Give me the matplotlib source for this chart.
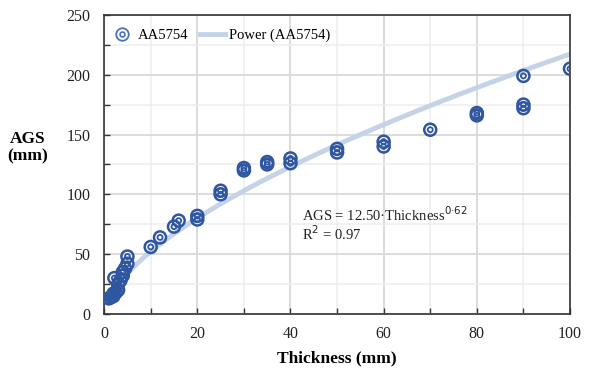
import numpy as np
import matplotlib
matplotlib.use("Agg")
import matplotlib.pyplot as plt
from matplotlib.ticker import MultipleLocator
from matplotlib.lines import Line2D

plt.rcParams['font.family'] = ['Liberation Serif', 'DejaVu Serif']

thickness = [1, 1.5, 2, 2, 2.5, 2.2, 3, 3, 3.5, 4, 4, 4.5, 5, 5,
             10, 12, 15, 16, 20, 20, 25, 25, 30, 30, 35, 35, 40, 40,
             50, 50, 60, 60, 70, 80, 80, 90, 90, 90, 100]
ags = [13, 14, 15, 17, 18, 30, 20, 25, 28, 32, 35, 38, 42, 48,
       56, 64, 73, 78, 79, 82, 100, 103, 120, 122, 125, 127, 126, 130,
       135, 138, 140, 144, 154, 166, 168, 172, 175, 199, 205]
fit_a = 12.50
fit_b = 0.62
series_label = "AA5754"
fit_label = "Power (AA5754)"

fig = plt.figure(figsize=(5.95, 3.72), dpi=100)
ax = fig.add_axes([0.175, 0.156, 0.783, 0.804])

blue = '#2F56A0'
x = np.array(thickness, dtype=float)
y = np.array(ags, dtype=float)

xf = np.linspace(1.5, 100, 300)
ax.plot(xf, fit_a * xf ** fit_b, color='#C5D3E8', lw=3.5, zorder=2, solid_capstyle='butt')
ax.scatter(x, y, s=75, facecolors='none', edgecolors=blue, linewidths=1.8, zorder=3)
ax.scatter(x, y, s=13, facecolors='none', edgecolors=blue, linewidths=1.3, zorder=3)

ax.set_xlim(0, 100)
ax.set_ylim(0, 250)
ax.xaxis.set_major_locator(MultipleLocator(20))
ax.xaxis.set_minor_locator(MultipleLocator(10))
ax.yaxis.set_major_locator(MultipleLocator(50))
ax.yaxis.set_minor_locator(MultipleLocator(25))
ax.grid(which='major', color='#D9D9D9', lw=1.3, zorder=0)
ax.grid(which='minor', color='#EDEDED', lw=1.1, zorder=0)
ax.set_axisbelow(True)
ax.tick_params(which='both', direction='in', length=4, width=1, colors='#333333',
               labelcolor='#222222', labelsize=11.5)
ax.tick_params(axis='y', which='both', pad=10)
ax.tick_params(axis='x', which='both', pad=9)
for s in ax.spines.values():
    s.set_color('#333333')
    s.set_linewidth(1.2)

# Legend
h1 = Line2D([], [], marker='o', markersize=9, markerfacecolor='none', markeredgecolor='#4A72C0',
            markeredgewidth=1.3, linestyle='none')
h1b = Line2D([], [], marker='o', markersize=3.5, markerfacecolor='none', markeredgecolor='#4A72C0',
             markeredgewidth=1.2, linestyle='none')
h2 = Line2D([], [], color='#C5D3E8', lw=3.5)
ax.legend([(h1, h1b), h2], [series_label, fit_label], loc='upper left', bbox_to_anchor=(0.012, 0.955),
          ncol=2, frameon=False, fontsize=10.5, handlelength=1.7, columnspacing=0.8,
          handletextpad=0.25, borderpad=0, borderaxespad=0)

ax.text(42.5, 83, f"AGS = {fit_a:.2f}·Thickness$^{{0{'·'}{int(round(fit_b*100))}}}$", fontsize=10.5,
        color='#222222', va='center', zorder=4)
ax.text(42.5, 67.5, "R$^2$ = 0.97", fontsize=10.5, color='#222222', va='center', zorder=4)

ax.set_xlabel("Thickness (mm)", fontsize=12.5, fontweight='bold', labelpad=6)
fig.text(0.047, 0.602, "AGS\n(mm)", fontsize=12.5, fontweight='bold', ha='center', va='center',
         linespacing=1.1)

fig.savefig("out.png", dpi=100)
